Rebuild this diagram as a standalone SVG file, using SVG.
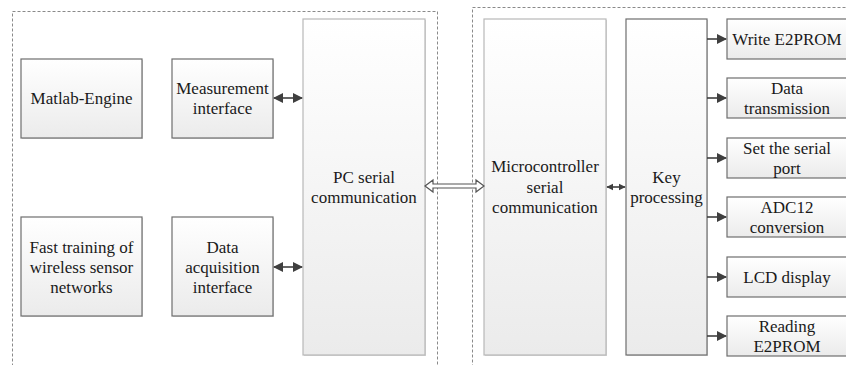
<svg xmlns="http://www.w3.org/2000/svg" width="846" height="365" viewBox="0 0 846 365">
<defs>
<linearGradient id="g" x1="0" y1="0" x2="0" y2="1">
<stop offset="0" stop-color="#ffffff"/>
<stop offset="1" stop-color="#ebebeb"/>
</linearGradient>
<marker id="ah" viewBox="0 0 10 10" refX="9" refY="5" markerWidth="10" markerHeight="10" markerUnits="userSpaceOnUse" orient="auto-start-reverse">
<path d="M0,0 L10,5 L0,10 Z" fill="#3f3f3f"/>
</marker>
<marker id="ahs" viewBox="0 0 10 10" refX="9" refY="5" markerWidth="7" markerHeight="8" markerUnits="userSpaceOnUse" orient="auto-start-reverse">
<path d="M0,0 L10,5 L0,10 Z" fill="#3f3f3f"/>
</marker>
<style>
.grp{fill:none;stroke:#8a8a8a;stroke-width:1;stroke-dasharray:3,2}
.bx{fill:url(#g);stroke:#6e6e6e;stroke-width:1.2}
.tall{fill:url(#g);stroke:#b8b8b8;stroke-width:1.2}
.sh{fill:#d6d6d6}
.t{font-family:"Liberation Serif","Times New Roman",serif;font-size:17px;fill:#1a1a1a;text-anchor:middle}
.ln{stroke:#3f3f3f;stroke-width:1.6;fill:none}
</style>
</defs>
<rect class="grp" x="12.5" y="11.5" width="425" height="370"/>
<rect class="grp" x="472.5" y="7.5" width="390" height="380"/>
<g id="matlab">
<rect class="sh" x="22" y="60" width="121" height="79"/>
<rect class="bx" x="21" y="59" width="121" height="79"/>
<text class="t" x="81.5" y="104">Matlab-Engine</text>
</g>
<g id="measurement">
<rect class="sh" x="173" y="60" width="101" height="79"/>
<rect class="bx" x="172" y="59" width="101" height="79"/>
<text class="t" x="222.5" y="94">Measurement</text>
<text class="t" x="222.5" y="114">interface</text>
</g>
<g id="fasttraining">
<rect class="sh" x="22" y="218" width="121" height="99"/>
<rect class="bx" x="21" y="217" width="121" height="99"/>
<text class="t" x="81.5" y="253">Fast training of</text>
<text class="t" x="81.5" y="273">wireless sensor</text>
<text class="t" x="81.5" y="293">networks</text>
</g>
<g id="dataacq">
<rect class="sh" x="173" y="218" width="101" height="99"/>
<rect class="bx" x="172" y="217" width="101" height="99"/>
<text class="t" x="222.5" y="253">Data</text>
<text class="t" x="222.5" y="273">acquisition</text>
<text class="t" x="222.5" y="293">interface</text>
</g>
<g id="pcserial">
<rect class="sh" x="304" y="20" width="122" height="336"/>
<rect class="tall" x="303" y="19" width="122" height="336"/>
<text class="t" x="364" y="183">PC serial</text>
<text class="t" x="364" y="203">communication</text>
</g>
<g id="mcuserial">
<rect class="sh" x="485" y="20" width="122" height="336"/>
<rect class="tall" x="484" y="19" width="122" height="336"/>
<text class="t" x="545" y="172">Microcontroller</text>
<text class="t" x="545" y="193">serial</text>
<text class="t" x="545" y="213">communication</text>
</g>
<g id="keyproc">
<rect class="sh" x="627" y="20" width="81" height="336"/>
<rect class="bx" x="626" y="19" width="81" height="336"/>
<text class="t" x="666.5" y="183">Key</text>
<text class="t" x="666.5" y="203">processing</text>
</g>
<g id="writee2prom">
<rect class="bx" x="727" y="19" width="120" height="40"/>
<text class="t" x="787" y="45">Write E2PROM</text>
</g>
<g id="datatrans">
<rect class="bx" x="727" y="78" width="120" height="40"/>
<text class="t" x="787" y="94">Data</text>
<text class="t" x="787" y="114">transmission</text>
</g>
<g id="setserial">
<rect class="bx" x="727" y="138" width="120" height="40"/>
<text class="t" x="787" y="154">Set the serial</text>
<text class="t" x="787" y="174">port</text>
</g>
<g id="adc12">
<rect class="bx" x="727" y="197" width="120" height="40"/>
<text class="t" x="787" y="213">ADC12</text>
<text class="t" x="787" y="233">conversion</text>
</g>
<g id="lcd">
<rect class="bx" x="727" y="257" width="120" height="40"/>
<text class="t" x="787" y="283">LCD display</text>
</g>
<g id="reade2prom">
<rect class="bx" x="727" y="316" width="120" height="40"/>
<text class="t" x="787" y="332">Reading</text>
<text class="t" x="787" y="352">E2PROM</text>
</g>
<g id="connectors">
<line class="ln" x1="274" y1="98" x2="302" y2="98" marker-start="url(#ah)" marker-end="url(#ah)"/>
<line class="ln" x1="274" y1="267" x2="302" y2="267" marker-start="url(#ah)" marker-end="url(#ah)"/>
<path d="M425,186 L433,180 L433,184 L476,184 L476,180 L484,186 L476,192 L476,188 L433,188 L433,192 Z" fill="#ffffff" stroke="#555555" stroke-width="1.2"/>
<line class="ln" x1="607" y1="187" x2="625" y2="187" marker-start="url(#ahs)" marker-end="url(#ahs)"/>
<line class="ln" x1="707" y1="39" x2="726" y2="39" marker-end="url(#ah)"/>
<line class="ln" x1="707" y1="98" x2="726" y2="98" marker-end="url(#ah)"/>
<line class="ln" x1="707" y1="158" x2="726" y2="158" marker-end="url(#ah)"/>
<line class="ln" x1="707" y1="217" x2="726" y2="217" marker-end="url(#ah)"/>
<line class="ln" x1="707" y1="277" x2="726" y2="277" marker-end="url(#ah)"/>
<line class="ln" x1="707" y1="336" x2="726" y2="336" marker-end="url(#ah)"/>
</g>
</svg>
